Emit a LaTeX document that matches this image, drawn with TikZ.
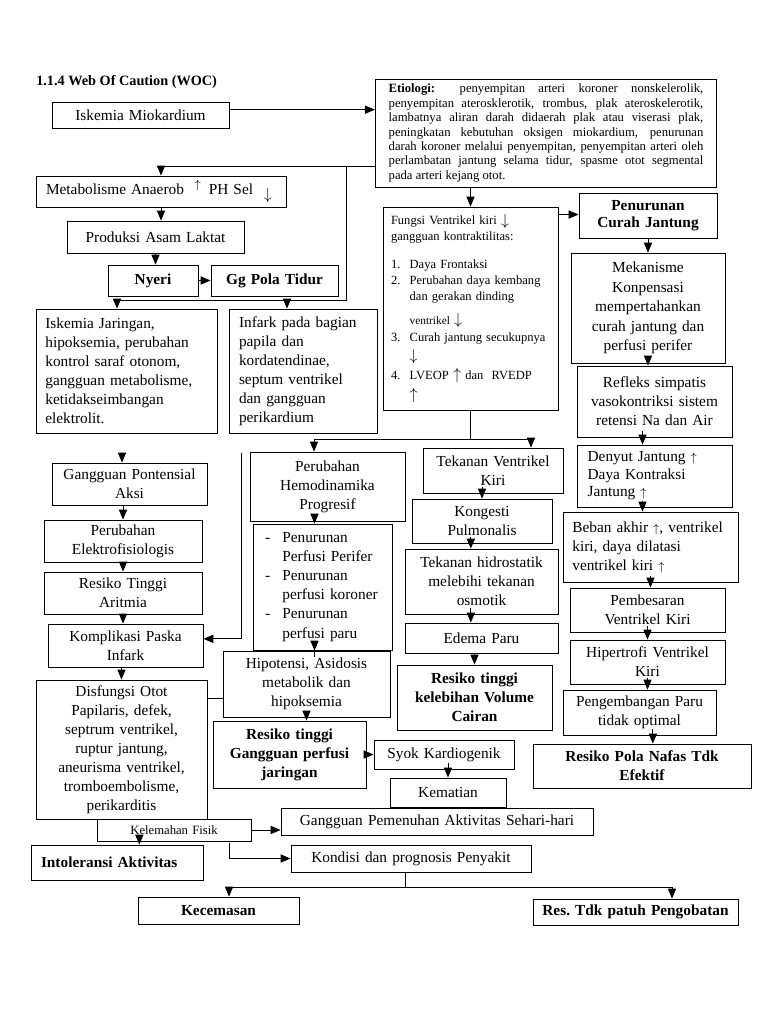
\documentclass[tikz,border=0pt]{standalone}
\usepackage{fontspec}
\setmainfont{Liberation Serif}
\usetikzlibrary{arrows}

\begin{document}
\begin{tikzpicture}[x=0.75pt,y=-0.75pt,>=triangle 45,
  box/.style={draw,line width=0.7pt,inner xsep=0pt,inner ysep=0pt,align=center,font=\fontsize{11.5}{14.3}\selectfont},
  bbox/.style={box,font=\fontsize{11.5}{14.3}\selectfont\bfseries},
  lbox/.style={box,align=left},
  small/.style={font=\fontsize{9.5}{10.8}\selectfont},
  line/.style={line width=0.7pt},
  tip/.style={line,->,shorten <=-5pt}]
\useasboundingbox (0,0) rectangle (768,1024);

\node[anchor=west,inner sep=0pt,font=\fontsize{10.7}{12}\selectfont\bfseries] (title) at (36,82) {1.1.4 Web Of Caution (WOC)};

% top
\node[box,text width=132.75pt,minimum height=19.5pt] (isk) at (140.5,115) {Iskemia Miokardium};
\node[box,small,align=justify,text width=236pt,inner xsep=10pt,minimum height=81pt] (etio) at (546,133) {\hyphenpenalty=10000\relax
\textbf{Etiologi:} penyempitan arteri koroner nonskelerolik,\linebreak
penyempitan aterosklerotik, trombus, plak ateroskelerotik,\linebreak
lambatnya aliran darah didaerah plak atau viserasi plak,\linebreak
peningkatan kebutuhan oksigen miokardium, penurunan\linebreak
darah koroner melalui penyempitan, penyempitan arteri oleh\linebreak
perlambatan jantung selama tidur, spasme otot segmental\linebreak
pada arteri kejang otot.};
\node[lbox,inner xsep=7.5pt,text width=172.5pt,minimum height=23.25pt] (metab) at (161,191.5) {Metabolisme Anaerob\hspace{8pt}\raisebox{4pt}{\small$\uparrow$}\hspace{6pt}PH Sel\hspace{8pt}\raisebox{-4pt}{$\downarrow$}};
\node[box,text width=132.75pt,minimum height=24pt] (prod) at (155.5,237) {Produksi Asam Laktat};
\node[bbox,text width=67.5pt,minimum height=23.25pt] (nyeri) at (153,280.5) {Nyeri};
\node[bbox,text width=95.25pt,minimum height=23.25pt] (ggpola) at (274.5,280.5) {Gg Pola Tidur};
\node[lbox,inner xsep=7pt,text width=121.75pt,minimum height=93pt] (iskj) at (126.5,371) {Iskemia Jaringan,\\ hipoksemia, perubahan\\ kontrol saraf otonom,\\ gangguan metabolisme,\\ ketidakseimbangan\\ elektrolit.};
\node[lbox,inner xsep=7.5pt,text width=96pt,minimum height=93pt] (infark) at (303,371) {Infark pada bagian\\ papila dan\\ kordatendinae,\\ septum ventrikel\\ dan gangguan\\ perikardium};
\node[lbox,font=\fontsize{9.4}{12}\selectfont,inner xsep=6pt,text width=119.25pt,minimum height=152.25pt] (fungsi) at (470.5,308.5) {\hyphenpenalty=10000\relax
Fungsi Ventrikel kiri \raisebox{-1pt}{\large$\downarrow$}\\
gangguan kontraktilitas:\\[9pt]
\makebox[14pt][l]{1.}Daya Frontaksi\\
\makebox[14pt][l]{2.}Perubahan daya kembang\\
\hspace*{14pt}dan gerakan dinding\\[6pt]
\hspace*{14pt}{\fontsize{8.5}{10}\selectfont ventrikel} {\large$\downarrow$}\\[1pt]
\makebox[14pt][l]{3.}Curah jantung secukupnya\\[2pt]
\hspace*{14pt}{\large$\downarrow$}\\[2pt]
\makebox[14pt][l]{4.}LVEOP {\large$\uparrow$} dan\ \ RVEDP\\[3pt]
\hspace*{14pt}{\large$\uparrow$}};

% right column
\node[bbox,font=\fontsize{11.5}{13}\selectfont\bfseries,text width=103.5pt,minimum height=33.75pt] (pcj) at (648,215.5) {Penurunan\\ Curah Jantung};
\node[box,font=\fontsize{11.5}{14.6}\selectfont,text width=115.5pt,minimum height=82.5pt] (meka) at (648,308) {Mekanisme\\ Konpensasi\\ mempertahankan\\ curah jantung dan\\ perfusi perifer};
\node[box,text width=116.25pt,minimum height=53.25pt] (refl) at (654.5,401.5) {Refleks simpatis\\ vasokontriksi sistem\\ retensi Na dan Air};
\node[lbox,font=\fontsize{11.5}{13.2}\selectfont,inner xsep=8pt,text width=100.25pt,minimum height=46.5pt] (denyut) at (654.5,476) {Denyut Jantung {\small$\uparrow$}\\ Daya Kontraksi\\ Jantung {\small$\uparrow$}};
\node[lbox,inner xsep=7pt,text width=117.25pt,minimum height=52.5pt] (beban) at (650.5,547) {Beban akhir {\small$\uparrow$}, ventrikel\\ kiri, daya dilatasi\\ ventrikel kiri {\small$\uparrow$}};
\node[box,text width=116.25pt,minimum height=33pt] (pemb) at (647.5,610) {Pembesaran\\ Ventrikel Kiri};
\node[box,text width=116.25pt,minimum height=33pt] (hiper) at (647.5,662) {Hipertrofi Ventrikel\\ Kiri};
\node[box,text width=114.75pt,minimum height=33.75pt] (peng) at (639.5,712.5) {Pengembangan Paru\\ tidak optimal};
\node[bbox,text width=163.5pt,minimum height=33pt] (rpn) at (642,766) {Resiko Pola Nafas Tdk\\ Efektif};

% middle column
\node[box,text width=105pt,minimum height=33.75pt] (tvk) at (493,470.5) {Tekanan Ventrikel\\ Kiri};
\node[box,text width=105pt,minimum height=33pt] (kong) at (482,521) {Kongesti\\ Pulmonalis};
\node[box,text width=114.75pt,minimum height=48.75pt] (hidro) at (481.5,581.5) {Tekanan hidrostatik\\ melebihi tekanan\\ osmotik};
\node[box,text width=114.75pt,minimum height=22.5pt] (edema) at (481.5,638) {Edema Paru};
\node[bbox,text width=116.25pt,minimum height=48.75pt] (rvc) at (474.5,697.5) {Resiko tinggi\\ kelebihan Volume\\ Cairan};
\node[box,text width=116.25pt,minimum height=51.75pt] (phem) at (327.5,486.5) {Perubahan\\ Hemodinamika\\ Progresif};
\node[lbox,inner xsep=9pt,text width=86.25pt,minimum height=94.5pt] (plist) at (322.5,587) {\makebox[13pt][l]{-}Penurunan\\ \hspace*{13pt}Perfusi Perifer\\ \makebox[13pt][l]{-}Penurunan\\ \hspace*{13pt}perfusi koroner\\ \makebox[13pt][l]{-}Penurunan\\ \hspace*{13pt}perfusi paru};
\node[box,text width=125.25pt,minimum height=49.5pt] (hipo) at (306.5,684) {Hipotensi, Asidosis\\ metabolik dan\\ hipoksemia};
\node[bbox,text width=114.75pt,minimum height=50.25pt] (rgp) at (289.5,754.5) {Resiko tinggi\\ Gangguan perfusi\\ jaringan};
\node[box,text width=105pt,minimum height=21.75pt] (syok) at (444,754.5) {Syok Kardiogenik};
\node[box,text width=87pt,minimum height=21.75pt] (kemat) at (448,792.5) {Kematian};

% left column
\node[box,text width=116.25pt,minimum height=31.5pt] (gpa) at (129.5,484) {Gangguan Pontensial\\ Aksi};
\node[box,text width=118.5pt,minimum height=31.5pt] (pel) at (123,541) {Perubahan\\ Elektrofisiologis};
\node[box,text width=118.5pt,minimum height=31.5pt] (rta) at (123,593) {Resiko Tinggi\\ Aritmia};
\node[box,text width=116.25pt,minimum height=32.25pt] (kpi) at (125.5,645.5) {Komplikasi Paska\\ Infark};
\node[box,text width=128.25pt,minimum height=104.25pt] (disf) at (121.5,749.5) {Disfungsi Otot\\ Papilaris, defek,\\ septrum ventrikel,\\ ruptur jantung,\\ aneurisma ventrikel,\\ tromboembolisme,\\ perikarditis};

% bottom
\node[box,small,text width=115.5pt,minimum height=16.5pt] (kelem) at (174,830) {Kelemahan Fisik};
\node[box,text width=234pt,minimum height=20.25pt] (ggpem) at (437,821.5) {Gangguan Pemenuhan Aktivitas Sehari-hari};
\node[box,text width=180pt,minimum height=20.25pt] (kond) at (411,858.5) {Kondisi dan prognosis Penyakit};
\node[bbox,align=left,inner xsep=7.5pt,text width=114pt,minimum height=26.25pt] (intol) at (117,862.5) {Intoleransi Aktivitas};
\node[bbox,text width=120.75pt,minimum height=20.25pt] (kecem) at (218.5,910.5) {Kecemasan};
\node[bbox,text width=153.75pt,minimum height=19.5pt] (rtp) at (635.5,912) {Res.\ Tdk patuh Pengobatan};

% connectors
\coordinate (e1) at (375,166);
\coordinate (e2) at (346,166);
\coordinate (e3) at (346,300);
\coordinate (s1) at (117,300);
\coordinate (s2) at (287,300);
\draw[line,->] ([yshift=4pt]isk.east) -- ([yshift=4pt]isk.east -| etio.west);
\draw[line,->] (e1) -| (metab.north);
\draw[line] (e2) -- (e3) -- (s1);
\draw[line,->] (s1) -- (s1 |- iskj.north);
\draw[line,->] (s2) -- (s2 |- infark.north);
\draw[line,->] (metab.south) -- (metab.south |- prod.north);
\draw[line,->] (prod.south) -- (prod.south |- nyeri.north);
\draw[line,->] (nyeri) -- (ggpola);
\draw[line,->] (fungsi.north |- etio.south) -- (fungsi.north);
\draw[line,->] ([yshift=-6pt]fungsi.north east) -- ([yshift=-6pt]fungsi.north east -| pcj.west);
\draw[line,->] (pcj.south) -- (pcj.south |- meka.north);
\draw[tip] (meka.south) -- (meka.south |- refl.north);
\draw[tip] ([xshift=-9pt]refl.south) -- ([xshift=-9pt]refl.south |- denyut.north);
\draw[tip] ([xshift=-9pt]denyut.south) -- ([xshift=-9pt]denyut.south |- beban.north);
\draw[tip] (beban.south) -- (beban.south |- pemb.north);
\draw[tip] (pemb.south) -- (pemb.south |- hiper.north);
\draw[tip] (hiper.south) -- (hiper.south |- peng.north);
\draw[tip] ([xshift=10pt]peng.south) -- ([xshift=10pt]peng.south |- rpn.north);

\coordinate (f1) at (470.5,439);
\coordinate (f2) at (314,439);
\coordinate (f3) at (531,439);
\draw[line] (fungsi.south) -- (f1);
\draw[line] (f2) -- (f3);
\draw[line,->] (f2) -- (f2 |- phem.north);
\draw[line,->] (f3) -- (f3 |- tvk.north);
\draw[tip] (kong.north |- tvk.south) -- (kong.north);
\draw[tip] ([xshift=-8pt]hidro.north |- kong.south) -- ([xshift=-8pt]hidro.north);
\draw[tip] ([xshift=-8pt]hidro.south) -- ([xshift=-8pt]hidro.south |- edema.north);
\draw[line,->] (rvc.north |- edema.south) -- (rvc.north);
\draw[tip] ([xshift=-6pt]plist.north |- phem.south) -- ([xshift=-6pt]plist.north);
\draw[tip] ([xshift=-6pt]plist.south) -- ([xshift=-6pt]plist.south |- hipo.north);
\draw[tip] (hipo.south) -- (hipo.south |- rgp.north);
\draw[line,->] (rgp.east |- syok.west) -- (syok.west);
\draw[tip] (kemat.north |- syok.south) -- (kemat.north);

\coordinate (g0) at (122,455);
\coordinate (v0) at (241,453);
\draw[line,->] (g0) -- (g0 |- gpa.north);
\draw[line,->] (pel.north |- gpa.south) -- (pel.north);
\draw[line,->] (pel.south) -- (rta.north);
\draw[line,->] (rta.south) -- (rta.south |- kpi.north);
\draw[line,->] (disf.north |- kpi.south) -- (disf.north);
\draw[line,->] (v0) |- ([yshift=5pt]kpi.east);
\draw[line] ([yshift=-11pt]hipo.west) -- ([yshift=-11pt]hipo.west -| disf.east);

\coordinate (k0) at (229,843);
\coordinate (b0) at (405,887);
\coordinate (b1) at (229,887);
\coordinate (b2) at (672,887);
\draw[tip] ([xshift=-26pt]kelem.south) -- ([xshift=-26pt]kelem.south |- intol.north);
\draw[line,->] (kelem.east) -- (kelem.east -| ggpem.west);
\draw[line,->] (k0) |- (kond.west);
\draw[line] ([xshift=-4.5pt]kond.south) -- (b0);
\draw[line] (b1) -- (b2);
\draw[line,->] (b1) -- (b1 |- kecem.north);
\draw[line,->] (b2) -- (b2 |- rtp.north);
\end{tikzpicture}
\end{document}
